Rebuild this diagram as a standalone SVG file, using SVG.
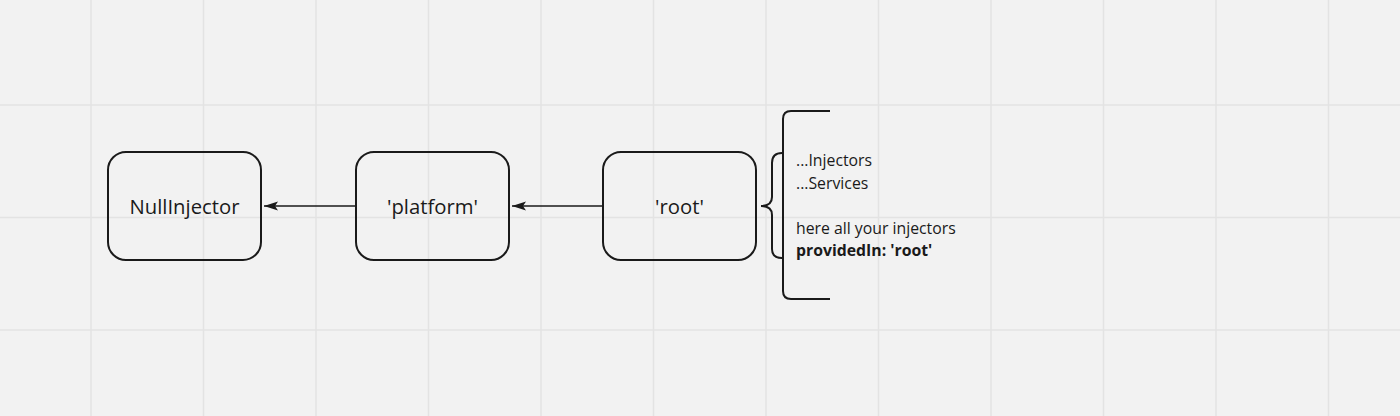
<svg xmlns="http://www.w3.org/2000/svg" width="1400" height="416" viewBox="0 0 1400 416">
<style>
.grid line{stroke:#e3e3e3;stroke-width:1.5}
.box{fill:none;stroke:#1a1a1a;stroke-width:2}
.lbl{font-family:"Open Sans","Noto Sans",sans-serif;font-size:20.3px;fill:#1a1a1a;text-anchor:middle}
.note{font-family:"Open Sans","Noto Sans",sans-serif;font-size:15.8px;fill:#1a1a1a}
.conn{stroke:#1a1a1a;stroke-width:1.3;fill:none}
.brace{fill:none;stroke:#1a1a1a;stroke-width:2}
</style>
<defs>
<marker id="arr" viewBox="0 0 14 10" refX="14" refY="5" markerWidth="14" markerHeight="10" markerUnits="userSpaceOnUse" orient="auto">
<path d="M14,5 L0,0.5 L3,5 L0,9.5 Z" fill="#1a1a1a"/>
</marker>
</defs>
<rect width="1400" height="416" fill="#f2f2f2"/>
<g class="grid">
<line x1="91" y1="0" x2="91" y2="416"/>
<line x1="203.5" y1="0" x2="203.5" y2="416"/>
<line x1="316" y1="0" x2="316" y2="416"/>
<line x1="428.5" y1="0" x2="428.5" y2="416"/>
<line x1="541" y1="0" x2="541" y2="416"/>
<line x1="653.5" y1="0" x2="653.5" y2="416"/>
<line x1="766" y1="0" x2="766" y2="416"/>
<line x1="878.5" y1="0" x2="878.5" y2="416"/>
<line x1="991" y1="0" x2="991" y2="416"/>
<line x1="1103.5" y1="0" x2="1103.5" y2="416"/>
<line x1="1216" y1="0" x2="1216" y2="416"/>
<line x1="1328.5" y1="0" x2="1328.5" y2="416"/>
<line x1="0" y1="105" x2="1400" y2="105"/>
<line x1="0" y1="217.5" x2="1400" y2="217.5"/>
<line x1="0" y1="330" x2="1400" y2="330"/>
</g>
<g id="connectors">
<line class="conn" x1="355" y1="206" x2="264" y2="206" marker-end="url(#arr)"/>
<line class="conn" x1="602" y1="206" x2="512" y2="206" marker-end="url(#arr)"/>
</g>
<g id="n-null">
<rect class="box" x="108" y="152" width="153" height="108" rx="18"/>
<text class="lbl" x="184.5" y="214">NullInjector</text>
</g>
<g id="n-platform">
<rect class="box" x="356" y="152" width="153" height="108" rx="18"/>
<text class="lbl" x="432.5" y="214">'platform'</text>
</g>
<g id="n-root">
<rect class="box" x="603" y="152" width="153" height="108" rx="18"/>
<text class="lbl" x="679.5" y="214">'root'</text>
</g>
<g id="brace">
<path class="brace" d="M782,153 Q772,153 772,163 L772,197 Q772,206 761,206 Q772,206 772,215 L772,249 Q772,258 782,258"/>
<path class="brace" d="M830,111 L791,111 Q783,111 783,119 L783,291 Q783,299 791,299 L830,299"/>
</g>
<g id="note">
<text class="note" x="796" y="166">...Injectors</text>
<text class="note" x="796" y="189">...Services</text>
<text class="note" x="796" y="234">here all your injectors</text>
<text class="note" x="796" y="256" font-weight="bold">providedIn: 'root'</text>
</g>
</svg>
